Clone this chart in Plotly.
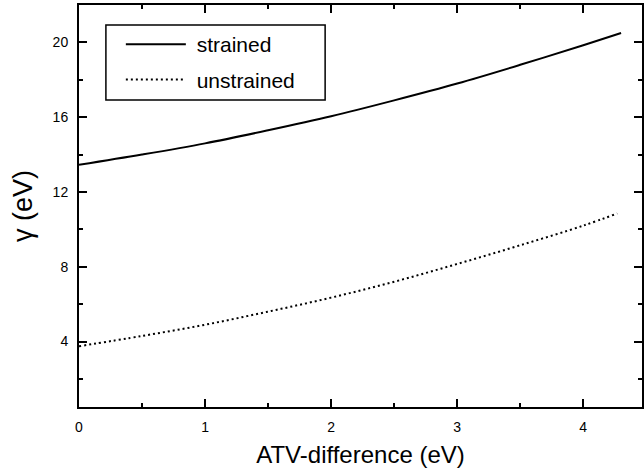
import plotly.graph_objects as go

# Data
x_strained = [0, 0.5, 1, 1.5, 2, 2.5, 3, 3.5, 4, 4.3]
y_strained = [13.45, 14.0, 14.6, 15.3, 16.05, 16.9, 17.8, 18.8, 19.85, 20.5]
x_unstrained = [0, 0.5, 1, 1.5, 2, 2.5, 3, 3.5, 4, 4.27]
y_unstrained = [3.75, 4.3, 4.9, 5.6, 6.35, 7.2, 8.15, 9.15, 10.2, 10.85]
x_ticks = [0, 1, 2, 3, 4]
y_ticks = [4, 8, 12, 16, 20]
series_names = ["strained", "unstrained"]

FONT = "Liberation Sans, Arial, sans-serif"

fig = go.Figure()
fig.add_trace(go.Scatter(x=x_strained, y=y_strained, mode="lines",
                         name="\u00a0" + series_names[0], legendgroup="a",
                         line=dict(color="black", width=2, shape="spline")))
fig.add_trace(go.Scatter(x=x_unstrained, y=y_unstrained, mode="lines",
                         name="\u00a0" + series_names[1], legendgroup="b",
                         line=dict(color="black", width=2, dash="2px,3px", shape="spline")))

axis_common = dict(showgrid=False, zeroline=False, showline=True, linecolor="black",
                   linewidth=2, mirror="ticks", ticks="inside", ticklen=8, tickwidth=2,
                   tickcolor="black", tickfont=dict(family=FONT, size=14, color="black"))

# legend frame (decoration), in paper coordinates
L, R, T, B = 79, 644, 5, 407
def px_x(p):
    return (p - L) / (R - L)
def px_y(p):
    return (B - p) / (B - T)

fig.update_layout(
    width=644, height=474,
    margin=dict(l=L, r=644 - R, t=T, b=474 - B),
    paper_bgcolor="white", plot_bgcolor="white",
    showlegend=True,
    legend=dict(x=px_x(121), y=px_y(24), xanchor="left", yanchor="top",
                borderwidth=0, bgcolor="rgba(0,0,0,0)",
                font=dict(family=FONT, size=21, color="black"),
                itemwidth=60, tracegroupgap=5),
    shapes=[dict(type="rect", xref="paper", yref="paper",
                 x0=px_x(106), x1=px_x(326), y0=px_y(100), y1=px_y(25),
                 line=dict(color="black", width=1.5), fillcolor="rgba(0,0,0,0)")],
    xaxis=dict(range=[0, 4.466], tickvals=x_ticks, ticktext=[str(v) for v in x_ticks],
               minor=dict(dtick=0.5, ticks="inside", ticklen=4, tickwidth=1.5, tickcolor="black"),
               title=dict(text="ATV-difference (eV)", font=dict(family=FONT, size=24, color="black"),
                          standoff=12),
               ticklabelstandoff=6,
               **axis_common),
    yaxis=dict(range=[0.5, 22], tickvals=y_ticks, ticktext=[str(v) for v in y_ticks],
               minor=dict(dtick=2, ticks="inside", ticklen=4, tickwidth=1.5, tickcolor="black"),
               title=dict(text="γ (eV)", font=dict(family=FONT, size=27, color="black"),
                          standoff=12),
               ticklabelstandoff=6,
               **axis_common),
)

fig.write_html("out.html")
